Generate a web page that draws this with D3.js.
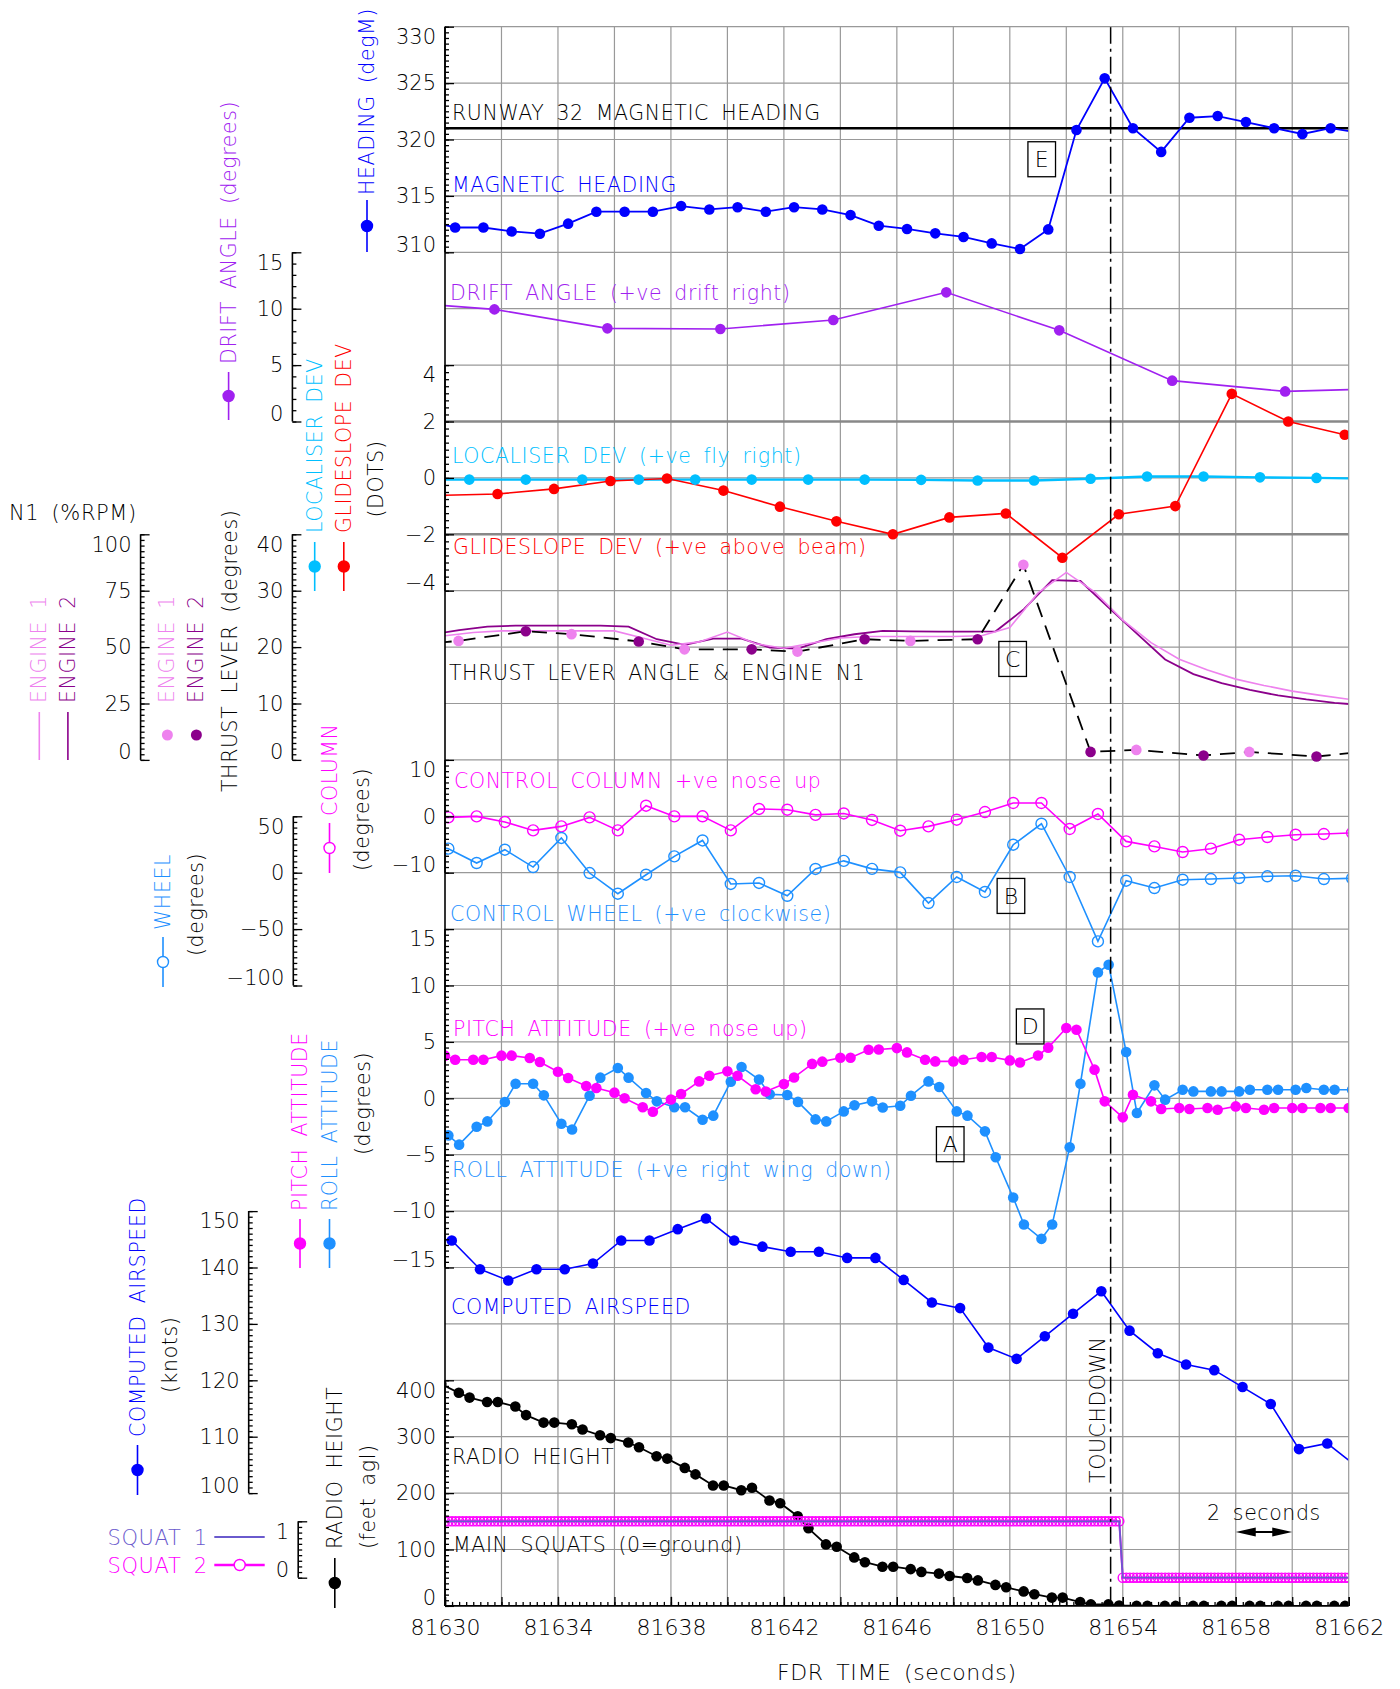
<!DOCTYPE html>
<html>
<head>
<meta charset="utf-8">
<script src="https://cdn.jsdelivr.net/npm/d3@7/dist/d3.min.js"></script>
<style>
  body { margin: 0; background: #fff; }
</style>
</head>
<body>
<div id="chart"></div>
<script>
// ---- data (time in FDR seconds) ----
var timeDomain = [81630, 81662];
var timeLabels = [81630, 81634, 81638, 81642, 81646, 81650, 81654, 81658, 81662];
var touchdownTime = 81653.57;
var runwayHeading = 321;

var headingStart = 81629.36, headingStep = 1;
var headingValues = [312.8, 312.2, 312.2, 311.85, 311.65, 312.54, 313.6, 313.6, 313.6, 314.1, 313.8, 314.0,
  313.6, 314.0, 313.8, 313.3, 312.36, 312.07, 311.68, 311.36, 310.79, 310.29, 312.03, 320.84, 325.42,
  321.0, 318.9, 321.93, 322.08, 321.55, 321.0, 320.49, 321.0, 320.6];

var driftStart = 81627.75, driftStep = 4;
var driftValues = [10.7, 9.94, 8.26, 8.2, 9.0, 11.45, 8.08, 3.62, 2.67, 2.94];

var locStart = 81628.86, locStep = 2;
var locValues = [-0.06, -0.06, -0.06, -0.06, -0.06, -0.06, -0.06, -0.06, -0.06, -0.07, -0.09, -0.09,
  -0.03, 0.05, 0.05, 0.02, 0.0, -0.03];

var gsStart = 81629.86, gsStep = 2;
var gsValues = [-0.62, -0.57, -0.39, -0.11, -0.02, -0.45, -1.02, -1.54, -2.0, -1.4, -1.26, -2.83,
  -1.29, -1.0, 2.98, 2.0, 1.53, 1.3];

var tla1Start = 81630.48, tla2Start = 81628.86, tlaStep = 4;
var tla1Values = [21.1, 22.3, 19.6, 19.2, 21.1, 34.6, 1.77, 1.42, 1.44];
var tla2Values = [20.4, 22.8, 21.0, 19.6, 21.4, 21.4, 1.42, 0.78, 0.6];

var n1e1Start = 81630, n1e2Start = 81629.5, n1Step = 1;
var n1e1Values = [55.0, 56.5, 57.2, 57.2, 57.2, 57.2, 57.2, 54.0, 50.8, 52.3, 56.7, 51.5, 49.5, 51.8,
  54.0, 54.7, 54.7, 54.7, 54.7, 55.0, 58.7, 74.0, 83.1, 74.5, 62.0, 52.0, 44.6, 39.8, 35.8, 33.0,
  30.5, 28.6, 26.9];
var n1e2Values = [55.5, 57.5, 59.1, 59.5, 59.5, 59.5, 59.5, 59.1, 53.5, 51.0, 53.8, 53.8, 49.8, 49.3,
  53.5, 55.7, 57.2, 57.0, 56.9, 56.9, 57.0, 66.8, 79.7, 79.3, 67.5, 56.0, 44.5, 38.0, 34.0, 31.0,
  28.6, 26.8, 25.3, 24.3];

var controlStart = 81629.12, controlStep = 1;
var columnValues = [-0.2, -0.19, -0.02, -1.0, -2.5, -1.79, -0.19, -2.5, 1.88, -0.02, 0.0, -2.5, 1.3,
  1.17, 0.25, 0.5, -0.65, -2.55, -1.79, -0.6, 0.76, 2.36, 2.36, -2.25, 0.41, -4.45, -5.34, -6.33,
  -5.74, -4.15, -3.67, -3.26, -3.14, -2.95];
var wheelValues = [25, 21.3, 8.6, 20.4, 5.0, 30.8, -0.3, -18.6, -1.8, 14.5, 28.6, -10.0, -9.1, -20.5,
  3.3, 10.5, 3.4, 0.3, -26.9, -3.8, -17.1, 24.8, 43.4, -3.8, -60.9, -7.1, -13.6, -6.2, -5.6, -4.7,
  -3.2, -2.7, -5.6, -5.0];

// two samples per second, at these sub-second offsets
var pitchStart = 81630, pitchOffsets = [0, 0.36];
var pitchPairs = [[3.78, 3.42], [3.42, 3.42], [3.78, 3.78], [3.57, 3.22], [2.36, 1.8], [1.09, 0.91],
  [0.5, 0.0], [-0.8, -1.19], [-0.1, 0.38], [1.5, 2.0], [2.4, 2.0], [0.8, 0.6], [1.27, 1.85],
  [3.05, 3.25], [3.6, 3.6], [4.3, 4.32], [4.45, 4.07], [3.42, 3.27], [3.27, 3.42], [3.66, 3.66],
  [3.36, 3.18], [3.8, 4.49], [6.23, 6.08], [2.54, -0.27], [-1.69, 0.32], [-0.27, -0.95],
  [-0.86, -0.95], [-0.86, -1.01], [-0.72, -0.86], [-1.01, -0.86], [-0.86, -0.86], [-0.86, -0.86],
  [-0.86]];
var rollStart = 81630, rollOffsets = [0.12, 0.5];
var rollPairs = [[-3.29, -4.11], [-2.52, -2.05], [-0.33, 1.29], [1.29, 0.26], [-2.25, -2.76],
  [0.23, 1.83], [2.69, 1.83], [0.47, -0.27], [-0.8, -0.8], [-1.9, -1.54], [1.47, 2.77], [1.66, 0.35],
  [0.29, -0.32], [-1.87, -2.05], [-1.16, -0.62], [-0.27, -0.82], [-0.66, 0.23], [1.5, 1.0],
  [-1.16, -1.54], [-2.93, -5.23], [-8.8, -11.19], [-12.46, -11.19], [-4.35, 1.29], [11.16, 11.84],
  [4.1, -1.3], [1.15, -0.12], [0.76, 0.61], [0.61, 0.61], [0.61, 0.76], [0.76, 0.76], [0.76, 0.91],
  [0.76, 0.76], [0.76]];

var airspeedStart = 81629.24, airspeedStep = 1;
var airspeedValues = [145.5, 144.8, 139.7, 137.7, 139.7, 139.7, 140.7, 144.8, 144.8, 146.8, 148.7,
  144.8, 143.7, 142.8, 142.8, 141.7, 141.7, 137.8, 133.8, 132.8, 125.8, 123.8, 127.8, 131.8, 135.8,
  128.8, 124.8, 122.8, 121.8, 118.8, 115.8, 107.8, 108.8, 104.9];

var radioStart = 81629, radioOffsets = [0.49, 0.87];
var radioPairs = [[397, 393.3], [377.8, 369.3], [361.5, 361.5], [353.5, 338.3], [325, 325],
  [322, 312.8], [302.5, 297.5], [289.7, 281.2], [265.4, 261.2], [244.7, 233.2], [213.6, 213.6],
  [205.1, 209.4], [186.9, 182.1], [158.9, 137.6], [109.0, 104.8], [86.0, 77.5], [69.5, 69.5],
  [65.2, 60.3], [57.3, 53.0], [49.5, 45.2], [37.2, 33.0], [25.7, 20.7], [14.7, 14.7], [6.9, 2.7],
  [2.7, 0.7], [0, 0], [0, 0], [0, 0], [0, 0], [0, 0], [0, 0], [0, 0], [0, 0]];

// squat switches, 8 samples per second from 81630
var squatStart = 81630, squatStep = 0.125;
var squatSamples =
  '111111111111111111111111111111111111111111111111111111111111111111111111111111111111111111111111' +
  '111111111111111111111111111111111111111111111111111111111111111111111111111111111111111111111111' +
  '00000000000000000000000000000000000000000000000000000000000000000';

// ---- layout ----
var FONT = '"DejaVu Sans", Verdana, sans-serif';
var plotLeft = 445, plotRight = 1348.7, plotTop = 26.7, rowH = 56.4, nRows = 28;
function row(r) { return plotTop + r * rowH; }
var plotBottom = row(nRows);

var x = d3.scaleLinear().domain(timeDomain).range([plotLeft, plotRight]);
var yHead = d3.scaleLinear().domain([310, 330]).range([row(4), row(0)]);
var yDrift = d3.scaleLinear().domain([0, 15]).range([row(7), row(4)]);
var yDots = d3.scaleLinear().domain([-4, 4]).range([row(10), row(6)]);
var yTla = d3.scaleLinear().domain([0, 40]).range([row(13), row(9)]);
var yN1 = d3.scaleLinear().domain([0, 100]).range([row(13), row(9)]);
var yCol = d3.scaleLinear().domain([-10, 10]).range([row(15), row(13)]);
var yWheel = d3.scaleLinear().domain([-100, 50]).range([row(17), row(14)]);
var yAtt = d3.scaleLinear().domain([-15, 15]).range([row(22), row(16)]);
var ySpd = d3.scaleLinear().domain([100, 150]).range([row(26), row(21)]);
var yRad = d3.scaleLinear().domain([0, 400]).range([row(28), row(24)]);
var ySquat = d3.scaleLinear().domain([0, 1]).range([row(27.5), row(26.5)]);

function regular(start, step, vals) {
  return vals.map(function(v, i) { return {t: start + i * step, v: v}; });
}
function paired(start, offsets, pairs) {
  var out = [];
  pairs.forEach(function(p, k) {
    p.forEach(function(v, j) { out.push({t: start + k + offsets[j], v: v}); });
  });
  return out;
}

var svg = d3.select('#chart').append('svg')
  .attr('width', 1400).attr('height', 1689)
  .style('display', 'block');
svg.append('rect').attr('width', 1400).attr('height', 1689).attr('fill', '#fff');

svg.append('defs').append('clipPath').attr('id', 'plotclip')
  .append('rect').attr('x', plotLeft).attr('y', plotTop)
  .attr('width', plotRight - plotLeft).attr('height', plotBottom - plotTop);

// grid
var grid = svg.append('g');
grid.selectAll('line.v').data(d3.range(timeDomain[0] + 2, timeDomain[1], 2)).enter().append('line')
  .attr('x1', function(d) { return x(d); }).attr('x2', function(d) { return x(d); })
  .attr('y1', plotTop).attr('y2', plotBottom)
  .attr('stroke', '#999').attr('stroke-width', 1.2);
grid.selectAll('line.h').data(d3.range(1, nRows)).enter().append('line')
  .attr('x1', plotLeft).attr('x2', plotRight)
  .attr('y1', function(d) { return row(d); }).attr('y2', function(d) { return row(d); })
  .attr('stroke', function(d) { return (d === 7 || d === 9) ? '#888' : '#999'; })
  .attr('stroke-width', function(d) { return (d === 7 || d === 9) ? 2.6 : 1.2; });

var plot = svg.append('g').attr('clip-path', 'url(#plotclip)');

function drawLine(pts, yScale, color, width, dash) {
  var line = d3.line().x(function(d) { return x(d.t); }).y(function(d) { return yScale(d.v); });
  plot.append('path').datum(pts).attr('d', line)
    .attr('fill', 'none').attr('stroke', color).attr('stroke-width', width)
    .attr('stroke-dasharray', dash || null);
}
function drawDots(pts, yScale, color, r, open) {
  plot.append('g').selectAll('circle').data(pts).enter().append('circle')
    .attr('cx', function(d) { return x(d.t); })
    .attr('cy', function(d) { return yScale(d.v); })
    .attr('r', r)
    .attr('fill', open ? 'none' : color)
    .attr('stroke', open ? color : 'none')
    .attr('stroke-width', 1.4);
}

// runway heading reference
plot.append('line').attr('x1', plotLeft).attr('x2', plotRight)
  .attr('y1', yHead(runwayHeading)).attr('y2', yHead(runwayHeading))
  .attr('stroke', '#000').attr('stroke-width', 2.6);

var heading = regular(headingStart, headingStep, headingValues);
drawLine(heading, yHead, '#0000ff', 1.8);
drawDots(heading, yHead, '#0000ff', 5.3);

var drift = regular(driftStart, driftStep, driftValues);
drawLine(drift, yDrift, '#a020f0', 1.6);
drawDots(drift, yDrift, '#a020f0', 5.3);

var loc = regular(locStart, locStep, locValues);
var gs = regular(gsStart, gsStep, gsValues);
drawLine(loc, yDots, '#00bfff', 2.4);
drawLine(gs, yDots, '#ff0000', 1.6);
drawDots(loc, yDots, '#00bfff', 5.3);
drawDots(gs, yDots, '#ff0000', 5.3);

var n1e1 = regular(n1e1Start, n1Step, n1e1Values);
var n1e2 = regular(n1e2Start, n1Step, n1e2Values);
drawLine(n1e2, yN1, '#8b008b', 1.8);
drawLine(n1e1, yN1, '#ee82ee', 1.6);

var tla1 = regular(tla1Start, tlaStep, tla1Values);
var tla2 = regular(tla2Start, tlaStep, tla2Values);
var tlaAll = tla1.concat(tla2).sort(function(a, b) { return a.t - b.t; });
drawLine(tlaAll, yTla, '#000', 1.8, '15 9');
drawDots(tla1, yTla, '#ee82ee', 5.3);
drawDots(tla2, yTla, '#8b008b', 5.3);

var column = regular(controlStart, controlStep, columnValues);
var wheel = regular(controlStart, controlStep, wheelValues);
drawLine(column, yCol, '#ff00ff', 1.6);
drawDots(column, yCol, '#ff00ff', 5.5, true);
drawLine(wheel, yWheel, '#1e90ff', 1.6);
drawDots(wheel, yWheel, '#1e90ff', 5.5, true);

var pitch = paired(pitchStart, pitchOffsets, pitchPairs);
var roll = paired(rollStart, rollOffsets, rollPairs);
drawLine(roll, yAtt, '#1e90ff', 1.6);
drawDots(roll, yAtt, '#1e90ff', 5.3);
drawLine(pitch, yAtt, '#ff00ff', 1.6);
drawDots(pitch, yAtt, '#ff00ff', 5.3);

var airspeed = regular(airspeedStart, airspeedStep, airspeedValues);
drawLine(airspeed, ySpd, '#0000ff', 1.6);
drawDots(airspeed, ySpd, '#0000ff', 5.3);

var radio = paired(radioStart, radioOffsets, radioPairs);
drawLine(radio, yRad, '#000', 1.8);
drawDots(radio, yRad, '#000', 5.3);

var squat = squatSamples.split('').map(function(c, i) { return {t: squatStart + i * squatStep, v: +c}; });
drawLine(squat, ySquat, '#ff00ff', 2);
drawDots(squat, ySquat, '#ff00ff', 4.6, true);
drawLine(squat, ySquat, '#6a5acd', 1.8);

// touchdown marker
svg.append('line').attr('x1', x(touchdownTime)).attr('x2', x(touchdownTime))
  .attr('y1', plotTop).attr('y2', plotBottom)
  .attr('stroke', '#000').attr('stroke-width', 1.5).attr('stroke-dasharray', '17 5 3 5');

// frame
svg.append('line').attr('x1', plotLeft).attr('x2', plotRight).attr('y1', plotTop).attr('y2', plotTop)
  .attr('stroke', '#999').attr('stroke-width', 1.2);
svg.append('line').attr('x1', plotRight).attr('x2', plotRight).attr('y1', plotTop).attr('y2', plotBottom)
  .attr('stroke', '#999').attr('stroke-width', 1.2);

// ---- axes ----
function leftAxis(xPos, scale, majors, minorStep) {
  var dom = scale.domain(), lo = dom[0], hi = dom[1];
  var minors = d3.range(lo, hi + minorStep / 2, minorStep);
  var g = svg.append('g').attr('transform', 'translate(' + xPos + ',0)');
  g.append('g').call(d3.axisLeft(scale).tickValues(minors).tickSizeInner(-4).tickSizeOuter(0).tickFormat(''));
  g.append('g').call(d3.axisLeft(scale).tickValues(majors).tickSizeInner(-9).tickSizeOuter(0)
    .tickPadding(9).tickFormat(d3.format('d')));
  g.selectAll('.domain').remove();
  g.selectAll('.tick line').attr('stroke-width', 1.3);
  g.append('line').attr('y1', scale(lo)).attr('y2', scale(hi))
    .attr('stroke', '#000').attr('stroke-width', 1.6);
  g.selectAll('text')
    .attr('font-size', 21).attr('font-family', FONT).attr('font-weight', 200).attr('fill', '#000')
    .attr('dy', function(d) { return d === hi ? '0.8em' : (d === lo ? '-0.05em' : '0.32em'); });
  return g;
}

leftAxis(plotLeft, yHead, [310, 315, 320, 325, 330], 0.5);
leftAxis(plotLeft, yDots, [-4, -2, 0, 2, 4], 0.25);
leftAxis(plotLeft, yCol, [-10, 0, 10], 1);
leftAxis(plotLeft, yAtt, [-15, -10, -5, 0, 5, 10, 15], 0.5);
leftAxis(plotLeft, yRad, [0, 100, 200, 300, 400], 10);
// left border between the axis segments
svg.append('line').attr('x1', plotLeft).attr('x2', plotLeft).attr('y1', plotTop).attr('y2', plotBottom)
  .attr('stroke', '#000').attr('stroke-width', 1.6);

leftAxis(292.4, yDrift, [0, 5, 10, 15], 1);
leftAxis(292.4, yTla, [0, 10, 20, 30, 40], 1);
leftAxis(140.6, yN1, [0, 25, 50, 75, 100], 2.5);
leftAxis(293.3, yWheel, [-100, -50, 0, 50], 5);
leftAxis(248.7, ySpd, [100, 110, 120, 130, 140, 150], 1);
leftAxis(298.2, ySquat, [0, 1], 0.1);

// time axis
var xg = svg.append('g').attr('transform', 'translate(0,' + plotBottom + ')');
xg.append('g').call(d3.axisBottom(x).tickValues(d3.range(timeDomain[0], timeDomain[1] + 0.1, 0.25))
  .tickSizeInner(-4).tickSizeOuter(0).tickFormat(''));
xg.append('g').call(d3.axisBottom(x).tickValues(d3.range(timeDomain[0], timeDomain[1] + 0.1, 2))
  .tickSizeInner(-9).tickSizeOuter(0).tickFormat(''));
xg.append('g').call(d3.axisBottom(x).tickValues(timeLabels).tickSizeInner(-9).tickSizeOuter(0)
  .tickPadding(13).tickFormat(d3.format('d')));
xg.selectAll('.domain').remove();
xg.selectAll('.tick line').attr('stroke-width', 1.3);
xg.selectAll('text').attr('font-size', 22).attr('font-family', FONT).attr('font-weight', 200)
  .attr('fill', '#000');
xg.append('line').attr('x1', plotLeft).attr('x2', plotRight).attr('stroke', '#000').attr('stroke-width', 1.6);

// ---- text ----
function label(s, px, py, color, size, anchor) {
  return svg.append('text').attr('x', px).attr('y', py)
    .attr('fill', color).attr('font-size', size || 20.5).attr('font-family', FONT)
    .attr('font-weight', 200).attr('letter-spacing', 0.6)
    .attr('word-spacing', 5).attr('text-anchor', anchor || 'start').text(s);
}
function vlabel(s, cx, yb, color, anchor) {
  return svg.append('text').attr('transform', 'translate(' + cx + ',' + yb + ') rotate(-90)')
    .attr('fill', color).attr('font-size', 20.5).attr('font-family', FONT)
    .attr('font-weight', 200).attr('letter-spacing', 0.6)
    .attr('word-spacing', 5).attr('dominant-baseline', 'central')
    .attr('text-anchor', anchor || 'start').text(s);
}
function vmark(cx, y1, y2, color, kind) {
  svg.append('line').attr('x1', cx).attr('x2', cx).attr('y1', y1).attr('y2', y2)
    .attr('stroke', color).attr('stroke-width', 1.6);
  if (kind === 'dot' || kind === 'ring') {
    svg.append('circle').attr('cx', cx).attr('cy', (y1 + y2) / 2).attr('r', 5.5)
      .attr('fill', kind === 'dot' ? color : '#fff').attr('stroke', color).attr('stroke-width', 1.4);
  }
}
function boxed(letter, t, py) {
  var bx = x(t);
  svg.append('rect').attr('x', bx - 13.8).attr('y', py - 17.5).attr('width', 27.6).attr('height', 35)
    .attr('fill', 'none').attr('stroke', '#000').attr('stroke-width', 1.3);
  svg.append('text').attr('x', bx).attr('y', py).attr('dy', '0.36em').attr('text-anchor', 'middle')
    .attr('font-size', 22).attr('font-family', FONT).attr('font-weight', 200)
    .attr('fill', '#000').text(letter);
}

label('RUNWAY 32 MAGNETIC HEADING', 452, 120, '#000');
label('MAGNETIC HEADING', 452, 192, '#0000ff');
label('DRIFT ANGLE (+ve drift right)', 450, 300, '#a020f0');
label('LOCALISER DEV (+ve fly right)', 452, 463, '#00bfff');
label('GLIDESLOPE DEV (+ve above beam)', 453, 554, '#ff0000');
label('THRUST LEVER ANGLE & ENGINE N1', 449, 680, '#000');
label('CONTROL COLUMN +ve nose up', 454, 788, '#ff00ff');
label('CONTROL WHEEL (+ve clockwise)', 450, 921, '#1e90ff');
label('PITCH ATTITUDE (+ve nose up)', 453, 1036, '#ff00ff');
label('ROLL ATTITUDE (+ve right wing down)', 452, 1177, '#1e90ff');
label('COMPUTED AIRSPEED', 451, 1314, '#0000ff');
label('RADIO HEIGHT', 452, 1464, '#000');
label('MAIN SQUATS (0=ground)', 453, 1552, '#000');

boxed('E', 81651.13, yHead(318.25));
boxed('C', 81650.1, yTla(17.9));
boxed('B', 81650.04, yWheel(-20.6));
boxed('D', 81650.72, yAtt(6.37));
boxed('A', 81647.89, yAtt(-4.07));

vlabel('TOUCHDOWN', x(touchdownTime) - 13, yRad(218), '#000');

// 2 second scale arrow
var ay = yRad(131);
svg.append('line').attr('x1', x(81658) + 8).attr('x2', x(81660) - 8).attr('y1', ay).attr('y2', ay)
  .attr('stroke', '#000').attr('stroke-width', 2);
[[x(81658), 1], [x(81660), -1]].forEach(function(a) {
  svg.append('path')
    .attr('d', 'M' + a[0] + ',' + ay + 'L' + (a[0] + a[1] * 20) + ',' + (ay - 4.5) + 'L' + (a[0] + a[1] * 20) + ',' + (ay + 4.5) + 'Z')
    .attr('fill', '#000');
});
label('2 seconds', (x(81658) + x(81660)) / 2, ay - 12, '#000', 20.5, 'middle');

label('FDR TIME (seconds)', (plotLeft + plotRight) / 2, 1680, '#000', 22, 'middle');

// outer legends / axis titles
vmark(367, 200, 252, '#0000ff', 'dot');
vlabel('HEADING (degM)', 367, 195, '#0000ff');

vmark(228.6, 372, 420, '#a020f0', 'dot');
vlabel('DRIFT ANGLE (degrees)', 228.6, 364, '#a020f0');

vmark(314.7, 542, 591, '#00bfff', 'dot');
vlabel('LOCALISER DEV', 314.7, 533, '#00bfff');
vmark(343.8, 542, 591, '#ff0000', 'dot');
vlabel('GLIDESLOPE DEV', 343.8, 533, '#ff0000');
vlabel('(DOTS)', 376.3, 479, '#000', 'middle');

label('N1 (%RPM)', 9, 520, '#000', 21);
vmark(39.3, 712, 760, '#ee82ee', 'line');
vlabel('ENGINE 1', 39.3, 703, '#ee82ee');
vmark(67.9, 712, 760, '#8b008b', 'line');
vlabel('ENGINE 2', 67.9, 703, '#8b008b');
svg.append('circle').attr('cx', 167.4).attr('cy', 735).attr('r', 5.5).attr('fill', '#ee82ee');
vlabel('ENGINE 1', 167.4, 703, '#ee82ee');
svg.append('circle').attr('cx', 196.4).attr('cy', 735).attr('r', 5.5).attr('fill', '#8b008b');
vlabel('ENGINE 2', 196.4, 703, '#8b008b');
vlabel('THRUST LEVER (degrees)', 230, 792, '#000');

vmark(329.5, 823, 873, '#ff00ff', 'ring');
vlabel('COLUMN', 329.5, 816, '#ff00ff');
vlabel('(degrees)', 361.6, 871, '#000');

vmark(163, 937, 987, '#1e90ff', 'ring');
vlabel('WHEEL', 163, 930, '#1e90ff');
vlabel('(degrees)', 196.4, 956, '#000');

vmark(300, 1219, 1268, '#ff00ff', 'dot');
vlabel('PITCH ATTITUDE', 300, 1211, '#ff00ff');
vmark(329.5, 1219, 1268, '#1e90ff', 'dot');
vlabel('ROLL ATTITUDE', 329.5, 1211, '#1e90ff');
vlabel('(degrees)', 362.5, 1155, '#000');

vmark(137.5, 1445, 1495, '#0000ff', 'dot');
vlabel('COMPUTED AIRSPEED', 137.5, 1437, '#0000ff');
vlabel('(knots)', 169.6, 1393, '#000');

vmark(334.8, 1558, 1608, '#000', 'dot');
vlabel('RADIO HEIGHT', 334.8, 1549, '#000');
vlabel('(feet agl)', 368.3, 1549, '#000');

label('SQUAT 1', 207.6, 1544.5, '#6a5acd', 21, 'end');
svg.append('line').attr('x1', 214.3).attr('x2', 264.7).attr('y1', 1537).attr('y2', 1537)
  .attr('stroke', '#6a5acd').attr('stroke-width', 2);
label('SQUAT 2', 207.6, 1572.6, '#ff00ff', 21, 'end');
svg.append('line').attr('x1', 214.3).attr('x2', 264.7).attr('y1', 1565).attr('y2', 1565)
  .attr('stroke', '#ff00ff').attr('stroke-width', 2.5);
svg.append('circle').attr('cx', 239.7).attr('cy', 1565).attr('r', 5.5)
  .attr('fill', '#fff').attr('stroke', '#ff00ff').attr('stroke-width', 1.4);
</script>
</body>
</html>
